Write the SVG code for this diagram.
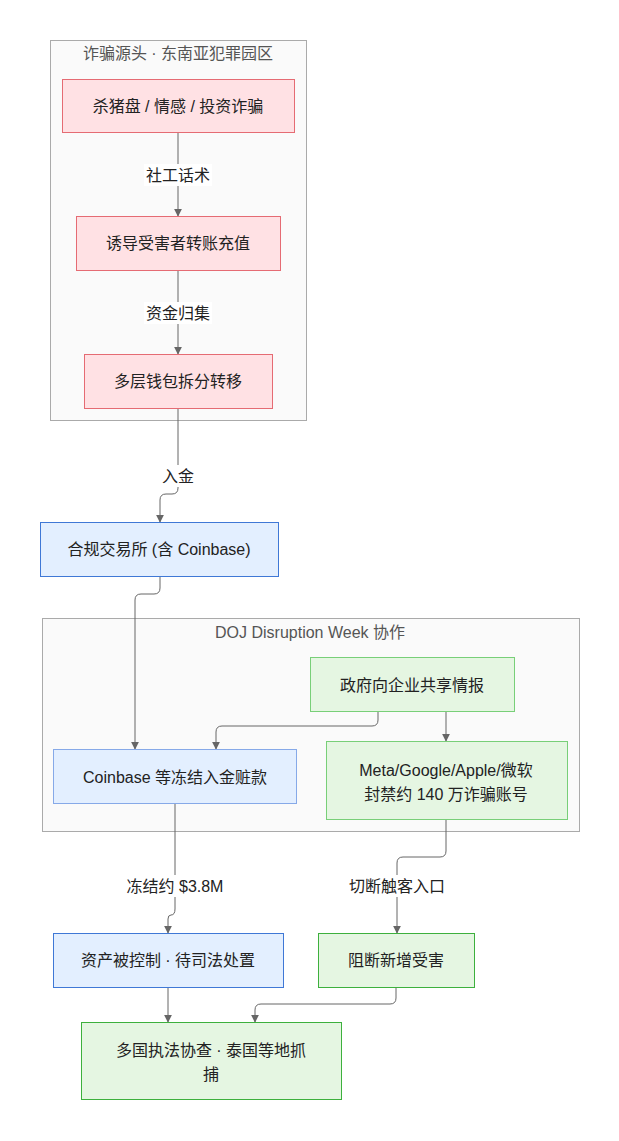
<svg xmlns="http://www.w3.org/2000/svg" width="619" height="1141" viewBox="0 0 619 1141">
  <defs>
    <marker id="arrow" viewBox="0 0 10 10" refX="9" refY="5" markerWidth="8" markerHeight="8" markerUnits="userSpaceOnUse" orient="auto">
      <path d="M0,0 L10,5 L0,10 z" fill="#666"/>
    </marker>
    <style>
      text { font-family: "Liberation Sans", "Noto Sans CJK SC", sans-serif; font-size: 16px; fill: #222; text-anchor: middle; dominant-baseline: central; }
      .cluster rect { fill: #fafafa; stroke: #aaa; stroke-width: 1; }
      .cluster text { fill: #555; }
      .pink rect { fill: #ffe1e4; stroke: #e56b73; stroke-width: 1; }
      .blue rect { fill: #e3efff; stroke: #3f78d6; stroke-width: 1; }
      .blue.soft rect { stroke: #86a9e8; }
      .green rect { fill: #e5f6e2; stroke: #3db03d; stroke-width: 1; }
      .green.soft rect { stroke: #78cf78; }
      .edges path { fill: none; stroke: #666; stroke-width: 1; marker-end: url(#arrow); }
      .label rect { fill: #ffffff; stroke: none; }
    </style>
  </defs>

  <rect width="619" height="1141" fill="#ffffff"/>

  <!-- clusters -->
  <g id="cluster-source" class="cluster">
    <rect x="50.5" y="40.5" width="256" height="380"/>
    <text x="178" y="53">诈骗源头 · 东南亚犯罪园区</text>
  </g>
  <g id="cluster-doj" class="cluster">
    <rect x="42.5" y="618.5" width="537" height="213"/>
    <text x="310" y="632">DOJ Disruption Week 协作</text>
  </g>

  <!-- connectors -->
  <g id="connectors" class="edges">
    <path d="M178,132.5 V216"/>
    <path d="M178,270.5 V354"/>
    <path d="M178,408.5 V488 Q178,494 172,494 H166 Q160,494 160,500 V522"/>
    <path d="M160,576.5 V588 Q160,594 154,594 H141 Q135,594 135,600 V749"/>
    <path d="M378,711.5 V720 Q378,726 372,726 H222 Q216,726 216,732 V749"/>
    <path d="M446,711.5 V741"/>
    <path d="M175,803.5 V909 Q175,915 171,915 Q168,915 168,919 V933"/>
    <path d="M446,819.5 V851 Q446,857 440,857 H403 Q397,857 397,863 V933"/>
    <path d="M168,987.5 V1022"/>
    <path d="M396,987.5 V998 Q396,1004 390,1004 H261 Q255,1004 255,1010 V1022"/>
  </g>

  <!-- connector labels -->
  <g id="edge-labels" class="label">
    <rect x="144" y="164" width="68" height="22"/>
    <text x="178" y="175">社工话术</text>
    <rect x="144" y="302" width="68" height="22"/>
    <text x="178" y="313">资金归集</text>
    <rect x="160" y="465" width="36" height="22"/>
    <text x="178" y="476">入金</text>
    <rect x="120" y="875" width="110" height="22"/>
    <text x="175" y="886">冻结约 $3.8M</text>
    <rect x="345" y="875" width="104" height="22"/>
    <text x="397" y="886">切断触客入口</text>
  </g>

  <!-- nodes -->
  <g id="node-scam" class="pink">
    <rect x="62.5" y="79.5" width="232" height="53"/>
    <text x="178" y="106">杀猪盘 / 情感 / 投资诈骗</text>
  </g>
  <g id="node-lure" class="pink">
    <rect x="76.5" y="216.5" width="204" height="54"/>
    <text x="178" y="243">诱导受害者转账充值</text>
  </g>
  <g id="node-split" class="pink">
    <rect x="84.5" y="354.5" width="188" height="54"/>
    <text x="178" y="381">多层钱包拆分转移</text>
  </g>
  <g id="node-exchange" class="blue">
    <rect x="40.5" y="522.5" width="238" height="54"/>
    <text x="159" y="549">合规交易所 (含 Coinbase)</text>
  </g>
  <g id="node-intel" class="green soft">
    <rect x="310.5" y="657.5" width="204" height="54"/>
    <text x="412" y="685">政府向企业共享情报</text>
  </g>
  <g id="node-freeze" class="blue soft">
    <rect x="53.5" y="749.5" width="243" height="54"/>
    <text x="175" y="777">Coinbase 等冻结入金赃款</text>
  </g>
  <g id="node-ban" class="green soft">
    <rect x="326.5" y="741.5" width="241" height="78"/>
    <text x="446" y="770">Meta/Google/Apple/微软</text>
    <text x="446" y="794">封禁约 140 万诈骗账号</text>
  </g>
  <g id="node-assets" class="blue">
    <rect x="53.5" y="933.5" width="230" height="54"/>
    <text x="168" y="960">资产被控制 · 待司法处置</text>
  </g>
  <g id="node-block" class="green">
    <rect x="318.5" y="933.5" width="156" height="54"/>
    <text x="396" y="960">阻断新增受害</text>
  </g>
  <g id="node-arrest" class="green">
    <rect x="81.5" y="1022.5" width="260" height="77"/>
    <text x="211" y="1050">多国执法协查 · 泰国等地抓</text>
    <text x="211" y="1074">捕</text>
  </g>
</svg>
